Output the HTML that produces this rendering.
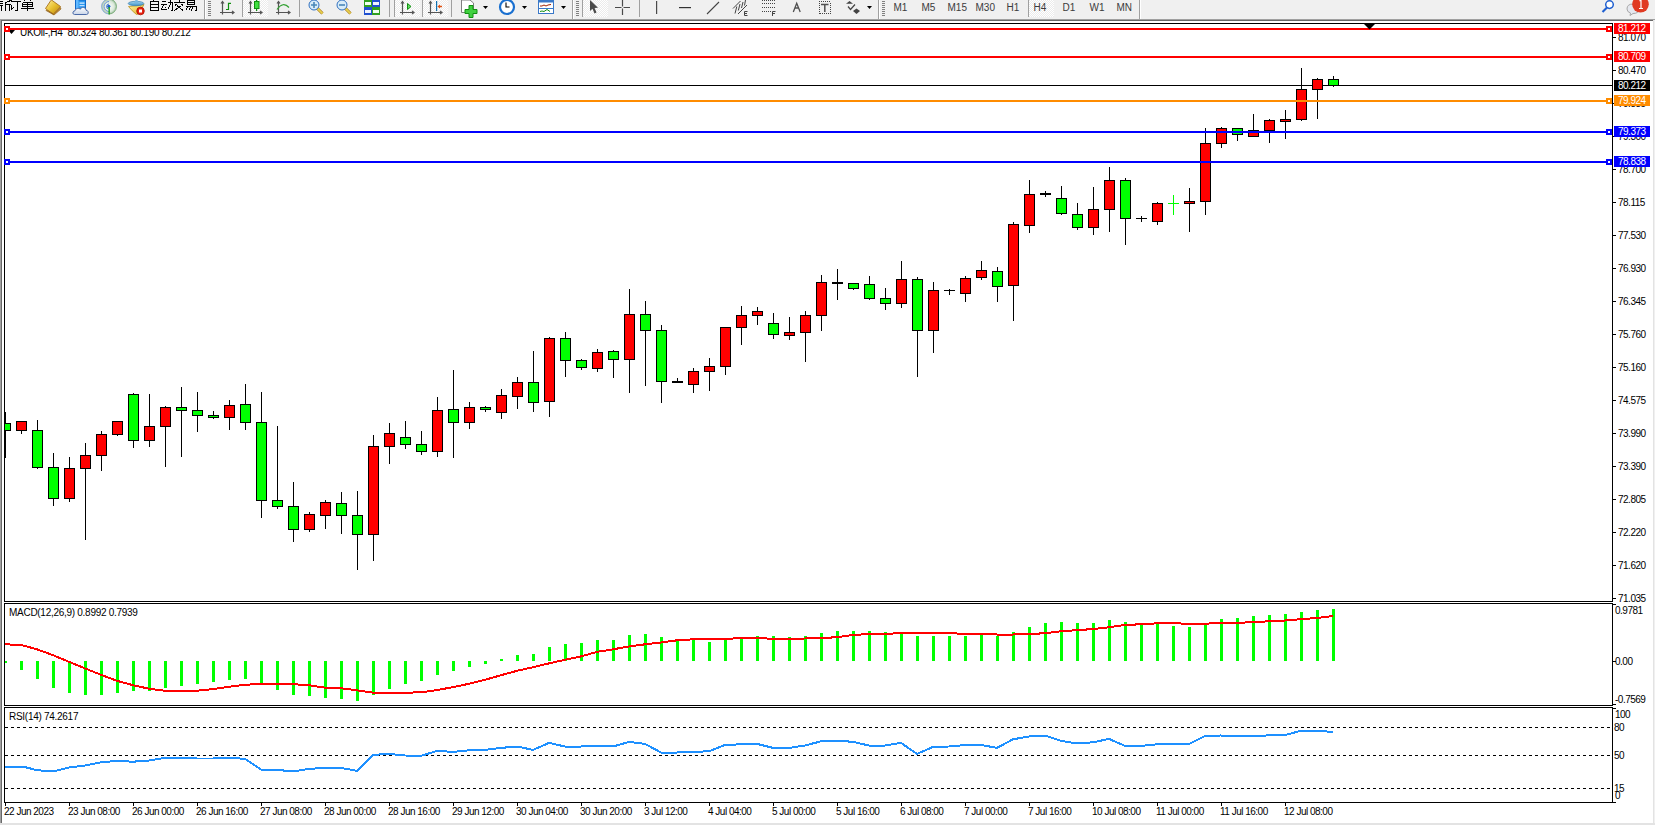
<!DOCTYPE html>
<html><head><meta charset="utf-8"><style>
html,body{margin:0;padding:0}
body{width:1655px;height:825px;overflow:hidden;background:#f0f0f0;position:relative;font-family:"Liberation Sans", sans-serif}
svg{position:absolute;left:0;top:0}
.t text{font-family:"Liberation Sans", sans-serif;font-size:10px;letter-spacing:-0.5px}
</style></head><body>
<svg width="1655" height="825" viewBox="0 0 1655 825">
<rect x="0" y="19" width="1655" height="1" fill="#a0a0a0"/>
<rect x="0" y="20" width="1654" height="804" fill="#696969"/>
<rect x="0" y="20" width="1" height="804" fill="#a0a0a0"/>
<rect x="2" y="21" width="1651" height="802" fill="#ffffff"/>
<rect x="1653" y="20" width="1" height="804" fill="#e3e3e3"/>
<rect x="0" y="823" width="1655" height="2" fill="#e3e3e3"/>
<defs><clipPath id="mc"><rect x="5" y="24" width="1607" height="577"/></clipPath><clipPath id="macdc"><rect x="5" y="604" width="1607" height="101"/></clipPath><clipPath id="rsic"><rect x="5" y="708" width="1607" height="94"/></clipPath></defs>
<rect x="4.5" y="23.5" width="1608" height="578" fill="none" stroke="#000" stroke-width="1" shape-rendering="crispEdges"/>
<rect x="4.5" y="603.5" width="1608" height="102" fill="none" stroke="#000" stroke-width="1" shape-rendering="crispEdges"/>
<rect x="4.5" y="707.5" width="1608" height="95" fill="none" stroke="#000" stroke-width="1" shape-rendering="crispEdges"/>
<rect x="5" y="85" width="1607" height="1" fill="#000" shape-rendering="crispEdges"/>
<g clip-path="url(#mc)" shape-rendering="crispEdges">
<rect x="5" y="412" width="1" height="46" fill="#000"/>
<rect x="0" y="423" width="11" height="8" fill="#000"/>
<rect x="1" y="424" width="9" height="6" fill="#00ff00"/>
<rect x="21" y="421" width="1" height="13" fill="#000"/>
<rect x="16" y="421" width="11" height="10" fill="#000"/>
<rect x="17" y="422" width="9" height="8" fill="#ff0000"/>
<rect x="37" y="420" width="1" height="49" fill="#000"/>
<rect x="32" y="430" width="11" height="38" fill="#000"/>
<rect x="33" y="431" width="9" height="36" fill="#00ff00"/>
<rect x="53" y="453" width="1" height="53" fill="#000"/>
<rect x="48" y="467" width="11" height="32" fill="#000"/>
<rect x="49" y="468" width="9" height="30" fill="#00ff00"/>
<rect x="69" y="457" width="1" height="45" fill="#000"/>
<rect x="64" y="468" width="11" height="31" fill="#000"/>
<rect x="65" y="469" width="9" height="29" fill="#ff0000"/>
<rect x="85" y="443" width="1" height="97" fill="#000"/>
<rect x="80" y="455" width="11" height="14" fill="#000"/>
<rect x="81" y="456" width="9" height="12" fill="#ff0000"/>
<rect x="101" y="431" width="1" height="40" fill="#000"/>
<rect x="96" y="434" width="11" height="22" fill="#000"/>
<rect x="97" y="435" width="9" height="20" fill="#ff0000"/>
<rect x="117" y="421" width="1" height="15" fill="#000"/>
<rect x="112" y="421" width="11" height="14" fill="#000"/>
<rect x="113" y="422" width="9" height="12" fill="#ff0000"/>
<rect x="133" y="393" width="1" height="55" fill="#000"/>
<rect x="128" y="394" width="11" height="47" fill="#000"/>
<rect x="129" y="395" width="9" height="45" fill="#00ff00"/>
<rect x="149" y="394" width="1" height="53" fill="#000"/>
<rect x="144" y="426" width="11" height="15" fill="#000"/>
<rect x="145" y="427" width="9" height="13" fill="#ff0000"/>
<rect x="165" y="406" width="1" height="61" fill="#000"/>
<rect x="160" y="407" width="11" height="20" fill="#000"/>
<rect x="161" y="408" width="9" height="18" fill="#ff0000"/>
<rect x="181" y="387" width="1" height="70" fill="#000"/>
<rect x="176" y="407" width="11" height="4" fill="#000"/>
<rect x="177" y="408" width="9" height="2" fill="#00ff00"/>
<rect x="197" y="392" width="1" height="40" fill="#000"/>
<rect x="192" y="410" width="11" height="6" fill="#000"/>
<rect x="193" y="411" width="9" height="4" fill="#00ff00"/>
<rect x="213" y="411" width="1" height="8" fill="#000"/>
<rect x="208" y="415" width="11" height="3" fill="#000"/>
<rect x="209" y="416" width="9" height="1" fill="#00ff00"/>
<rect x="229" y="400" width="1" height="30" fill="#000"/>
<rect x="224" y="405" width="11" height="13" fill="#000"/>
<rect x="225" y="406" width="9" height="11" fill="#ff0000"/>
<rect x="245" y="384" width="1" height="46" fill="#000"/>
<rect x="240" y="404" width="11" height="19" fill="#000"/>
<rect x="241" y="405" width="9" height="17" fill="#00ff00"/>
<rect x="261" y="392" width="1" height="126" fill="#000"/>
<rect x="256" y="422" width="11" height="79" fill="#000"/>
<rect x="257" y="423" width="9" height="77" fill="#00ff00"/>
<rect x="277" y="426" width="1" height="83" fill="#000"/>
<rect x="272" y="500" width="11" height="7" fill="#000"/>
<rect x="273" y="501" width="9" height="5" fill="#00ff00"/>
<rect x="293" y="482" width="1" height="60" fill="#000"/>
<rect x="288" y="506" width="11" height="24" fill="#000"/>
<rect x="289" y="507" width="9" height="22" fill="#00ff00"/>
<rect x="309" y="512" width="1" height="20" fill="#000"/>
<rect x="304" y="514" width="11" height="16" fill="#000"/>
<rect x="305" y="515" width="9" height="14" fill="#ff0000"/>
<rect x="325" y="500" width="1" height="29" fill="#000"/>
<rect x="320" y="502" width="11" height="14" fill="#000"/>
<rect x="321" y="503" width="9" height="12" fill="#ff0000"/>
<rect x="341" y="492" width="1" height="42" fill="#000"/>
<rect x="336" y="503" width="11" height="13" fill="#000"/>
<rect x="337" y="504" width="9" height="11" fill="#00ff00"/>
<rect x="357" y="491" width="1" height="79" fill="#000"/>
<rect x="352" y="515" width="11" height="20" fill="#000"/>
<rect x="353" y="516" width="9" height="18" fill="#00ff00"/>
<rect x="373" y="435" width="1" height="126" fill="#000"/>
<rect x="368" y="446" width="11" height="89" fill="#000"/>
<rect x="369" y="447" width="9" height="87" fill="#ff0000"/>
<rect x="389" y="423" width="1" height="41" fill="#000"/>
<rect x="384" y="433" width="11" height="14" fill="#000"/>
<rect x="385" y="434" width="9" height="12" fill="#ff0000"/>
<rect x="405" y="421" width="1" height="28" fill="#000"/>
<rect x="400" y="437" width="11" height="8" fill="#000"/>
<rect x="401" y="438" width="9" height="6" fill="#00ff00"/>
<rect x="421" y="431" width="1" height="24" fill="#000"/>
<rect x="416" y="444" width="11" height="8" fill="#000"/>
<rect x="417" y="445" width="9" height="6" fill="#00ff00"/>
<rect x="437" y="397" width="1" height="60" fill="#000"/>
<rect x="432" y="410" width="11" height="42" fill="#000"/>
<rect x="433" y="411" width="9" height="40" fill="#ff0000"/>
<rect x="453" y="370" width="1" height="88" fill="#000"/>
<rect x="448" y="409" width="11" height="14" fill="#000"/>
<rect x="449" y="410" width="9" height="12" fill="#00ff00"/>
<rect x="469" y="402" width="1" height="27" fill="#000"/>
<rect x="464" y="407" width="11" height="16" fill="#000"/>
<rect x="465" y="408" width="9" height="14" fill="#ff0000"/>
<rect x="485" y="406" width="1" height="6" fill="#000"/>
<rect x="480" y="407" width="11" height="3" fill="#000"/>
<rect x="481" y="408" width="9" height="1" fill="#00ff00"/>
<rect x="501" y="389" width="1" height="30" fill="#000"/>
<rect x="496" y="395" width="11" height="18" fill="#000"/>
<rect x="497" y="396" width="9" height="16" fill="#ff0000"/>
<rect x="517" y="377" width="1" height="32" fill="#000"/>
<rect x="512" y="382" width="11" height="15" fill="#000"/>
<rect x="513" y="383" width="9" height="13" fill="#ff0000"/>
<rect x="533" y="351" width="1" height="61" fill="#000"/>
<rect x="528" y="382" width="11" height="21" fill="#000"/>
<rect x="529" y="383" width="9" height="19" fill="#00ff00"/>
<rect x="549" y="337" width="1" height="80" fill="#000"/>
<rect x="544" y="338" width="11" height="64" fill="#000"/>
<rect x="545" y="339" width="9" height="62" fill="#ff0000"/>
<rect x="565" y="332" width="1" height="45" fill="#000"/>
<rect x="560" y="338" width="11" height="23" fill="#000"/>
<rect x="561" y="339" width="9" height="21" fill="#00ff00"/>
<rect x="581" y="359" width="1" height="11" fill="#000"/>
<rect x="576" y="360" width="11" height="8" fill="#000"/>
<rect x="577" y="361" width="9" height="6" fill="#00ff00"/>
<rect x="597" y="349" width="1" height="23" fill="#000"/>
<rect x="592" y="352" width="11" height="17" fill="#000"/>
<rect x="593" y="353" width="9" height="15" fill="#ff0000"/>
<rect x="613" y="350" width="1" height="28" fill="#000"/>
<rect x="608" y="351" width="11" height="9" fill="#000"/>
<rect x="609" y="352" width="9" height="7" fill="#00ff00"/>
<rect x="629" y="289" width="1" height="104" fill="#000"/>
<rect x="624" y="314" width="11" height="46" fill="#000"/>
<rect x="625" y="315" width="9" height="44" fill="#ff0000"/>
<rect x="645" y="301" width="1" height="85" fill="#000"/>
<rect x="640" y="314" width="11" height="17" fill="#000"/>
<rect x="641" y="315" width="9" height="15" fill="#00ff00"/>
<rect x="661" y="325" width="1" height="78" fill="#000"/>
<rect x="656" y="330" width="11" height="52" fill="#000"/>
<rect x="657" y="331" width="9" height="50" fill="#00ff00"/>
<rect x="677" y="378" width="1" height="5" fill="#000"/>
<rect x="672" y="381" width="11" height="2" fill="#000"/>
<rect x="693" y="368" width="1" height="25" fill="#000"/>
<rect x="688" y="371" width="11" height="14" fill="#000"/>
<rect x="689" y="372" width="9" height="12" fill="#ff0000"/>
<rect x="709" y="358" width="1" height="33" fill="#000"/>
<rect x="704" y="366" width="11" height="6" fill="#000"/>
<rect x="705" y="367" width="9" height="4" fill="#ff0000"/>
<rect x="725" y="327" width="1" height="48" fill="#000"/>
<rect x="720" y="327" width="11" height="40" fill="#000"/>
<rect x="721" y="328" width="9" height="38" fill="#ff0000"/>
<rect x="741" y="306" width="1" height="39" fill="#000"/>
<rect x="736" y="315" width="11" height="13" fill="#000"/>
<rect x="737" y="316" width="9" height="11" fill="#ff0000"/>
<rect x="757" y="307" width="1" height="18" fill="#000"/>
<rect x="752" y="311" width="11" height="5" fill="#000"/>
<rect x="753" y="312" width="9" height="3" fill="#ff0000"/>
<rect x="773" y="313" width="1" height="26" fill="#000"/>
<rect x="768" y="323" width="11" height="12" fill="#000"/>
<rect x="769" y="324" width="9" height="10" fill="#00ff00"/>
<rect x="789" y="317" width="1" height="23" fill="#000"/>
<rect x="784" y="332" width="11" height="4" fill="#000"/>
<rect x="785" y="333" width="9" height="2" fill="#ff0000"/>
<rect x="805" y="311" width="1" height="51" fill="#000"/>
<rect x="800" y="315" width="11" height="18" fill="#000"/>
<rect x="801" y="316" width="9" height="16" fill="#ff0000"/>
<rect x="821" y="275" width="1" height="56" fill="#000"/>
<rect x="816" y="282" width="11" height="34" fill="#000"/>
<rect x="817" y="283" width="9" height="32" fill="#ff0000"/>
<rect x="837" y="269" width="1" height="31" fill="#000"/>
<rect x="832" y="282" width="11" height="2" fill="#000"/>
<rect x="853" y="283" width="1" height="7" fill="#000"/>
<rect x="848" y="283" width="11" height="6" fill="#000"/>
<rect x="849" y="284" width="9" height="4" fill="#00ff00"/>
<rect x="869" y="276" width="1" height="24" fill="#000"/>
<rect x="864" y="284" width="11" height="15" fill="#000"/>
<rect x="865" y="285" width="9" height="13" fill="#00ff00"/>
<rect x="885" y="288" width="1" height="22" fill="#000"/>
<rect x="880" y="298" width="11" height="6" fill="#000"/>
<rect x="881" y="299" width="9" height="4" fill="#00ff00"/>
<rect x="901" y="261" width="1" height="47" fill="#000"/>
<rect x="896" y="279" width="11" height="25" fill="#000"/>
<rect x="897" y="280" width="9" height="23" fill="#ff0000"/>
<rect x="917" y="277" width="1" height="100" fill="#000"/>
<rect x="912" y="279" width="11" height="52" fill="#000"/>
<rect x="913" y="280" width="9" height="50" fill="#00ff00"/>
<rect x="933" y="282" width="1" height="71" fill="#000"/>
<rect x="928" y="290" width="11" height="41" fill="#000"/>
<rect x="929" y="291" width="9" height="39" fill="#ff0000"/>
<rect x="949" y="289" width="1" height="6" fill="#000"/>
<rect x="944" y="290" width="11" height="1" fill="#000"/>
<rect x="965" y="276" width="1" height="26" fill="#000"/>
<rect x="960" y="278" width="11" height="16" fill="#000"/>
<rect x="961" y="279" width="9" height="14" fill="#ff0000"/>
<rect x="981" y="261" width="1" height="19" fill="#000"/>
<rect x="976" y="270" width="11" height="8" fill="#000"/>
<rect x="977" y="271" width="9" height="6" fill="#ff0000"/>
<rect x="997" y="267" width="1" height="35" fill="#000"/>
<rect x="992" y="271" width="11" height="16" fill="#000"/>
<rect x="993" y="272" width="9" height="14" fill="#00ff00"/>
<rect x="1013" y="222" width="1" height="99" fill="#000"/>
<rect x="1008" y="224" width="11" height="62" fill="#000"/>
<rect x="1009" y="225" width="9" height="60" fill="#ff0000"/>
<rect x="1029" y="180" width="1" height="53" fill="#000"/>
<rect x="1024" y="194" width="11" height="32" fill="#000"/>
<rect x="1025" y="195" width="9" height="30" fill="#ff0000"/>
<rect x="1045" y="191" width="1" height="6" fill="#000"/>
<rect x="1040" y="193" width="11" height="2" fill="#000"/>
<rect x="1061" y="186" width="1" height="29" fill="#000"/>
<rect x="1056" y="198" width="11" height="16" fill="#000"/>
<rect x="1057" y="199" width="9" height="14" fill="#00ff00"/>
<rect x="1077" y="203" width="1" height="27" fill="#000"/>
<rect x="1072" y="214" width="11" height="14" fill="#000"/>
<rect x="1073" y="215" width="9" height="12" fill="#00ff00"/>
<rect x="1093" y="187" width="1" height="48" fill="#000"/>
<rect x="1088" y="209" width="11" height="19" fill="#000"/>
<rect x="1089" y="210" width="9" height="17" fill="#ff0000"/>
<rect x="1109" y="167" width="1" height="65" fill="#000"/>
<rect x="1104" y="180" width="11" height="30" fill="#000"/>
<rect x="1105" y="181" width="9" height="28" fill="#ff0000"/>
<rect x="1125" y="178" width="1" height="67" fill="#000"/>
<rect x="1120" y="180" width="11" height="39" fill="#000"/>
<rect x="1121" y="181" width="9" height="37" fill="#00ff00"/>
<rect x="1141" y="216" width="1" height="6" fill="#000"/>
<rect x="1136" y="218" width="11" height="1" fill="#000"/>
<rect x="1157" y="202" width="1" height="23" fill="#000"/>
<rect x="1152" y="203" width="11" height="19" fill="#000"/>
<rect x="1153" y="204" width="9" height="17" fill="#ff0000"/>
<rect x="1168" y="203" width="11" height="1" fill="#00ff00"/>
<rect x="1173" y="195" width="1" height="20" fill="#00ff00"/>
<rect x="1189" y="188" width="1" height="44" fill="#000"/>
<rect x="1184" y="201" width="11" height="3" fill="#000"/>
<rect x="1185" y="202" width="9" height="1" fill="#ff0000"/>
<rect x="1205" y="128" width="1" height="87" fill="#000"/>
<rect x="1200" y="143" width="11" height="59" fill="#000"/>
<rect x="1201" y="144" width="9" height="57" fill="#ff0000"/>
<rect x="1221" y="127" width="1" height="21" fill="#000"/>
<rect x="1216" y="128" width="11" height="16" fill="#000"/>
<rect x="1217" y="129" width="9" height="14" fill="#ff0000"/>
<rect x="1237" y="128" width="1" height="13" fill="#000"/>
<rect x="1232" y="128" width="11" height="7" fill="#000"/>
<rect x="1233" y="129" width="9" height="5" fill="#00ff00"/>
<rect x="1253" y="114" width="1" height="23" fill="#000"/>
<rect x="1248" y="130" width="11" height="7" fill="#000"/>
<rect x="1249" y="131" width="9" height="5" fill="#ff0000"/>
<rect x="1269" y="119" width="1" height="24" fill="#000"/>
<rect x="1264" y="120" width="11" height="11" fill="#000"/>
<rect x="1265" y="121" width="9" height="9" fill="#ff0000"/>
<rect x="1285" y="110" width="1" height="29" fill="#000"/>
<rect x="1280" y="119" width="11" height="3" fill="#000"/>
<rect x="1281" y="120" width="9" height="1" fill="#ff0000"/>
<rect x="1301" y="68" width="1" height="53" fill="#000"/>
<rect x="1296" y="89" width="11" height="31" fill="#000"/>
<rect x="1297" y="90" width="9" height="29" fill="#ff0000"/>
<rect x="1317" y="78" width="1" height="41" fill="#000"/>
<rect x="1312" y="79" width="11" height="11" fill="#000"/>
<rect x="1313" y="80" width="9" height="9" fill="#ff0000"/>
<rect x="1333" y="76" width="1" height="11" fill="#000"/>
<rect x="1328" y="79" width="11" height="7" fill="#000"/>
<rect x="1329" y="80" width="9" height="5" fill="#00ff00"/>
</g>
<text x="20" y="36" fill="#000" style="font-family:&quot;Liberation Sans&quot;, sans-serif;font-size:10px;letter-spacing:-0.28px">UKOil-,H4&#160;&#160;80.324 80.361 80.190 80.212</text>
<path d="M8 30 L15 30 L11.5 34 Z" fill="#000"/>
<g>
<rect x="5" y="28" width="1607" height="2" fill="#ff0000" shape-rendering="crispEdges"/>
<rect x="4" y="26" width="6" height="6" fill="#ff0000" shape-rendering="crispEdges"/>
<rect x="6" y="28" width="2" height="2" fill="#fff" shape-rendering="crispEdges"/>
<rect x="1606" y="26" width="6" height="6" fill="#ff0000" shape-rendering="crispEdges"/>
<rect x="1608" y="28" width="2" height="2" fill="#fff" shape-rendering="crispEdges"/>
<rect x="5" y="56" width="1607" height="2" fill="#ff0000" shape-rendering="crispEdges"/>
<rect x="4" y="54" width="6" height="6" fill="#ff0000" shape-rendering="crispEdges"/>
<rect x="6" y="56" width="2" height="2" fill="#fff" shape-rendering="crispEdges"/>
<rect x="1606" y="54" width="6" height="6" fill="#ff0000" shape-rendering="crispEdges"/>
<rect x="1608" y="56" width="2" height="2" fill="#fff" shape-rendering="crispEdges"/>
<rect x="5" y="100" width="1607" height="2" fill="#ff8c00" shape-rendering="crispEdges"/>
<rect x="4" y="98" width="6" height="6" fill="#ff8c00" shape-rendering="crispEdges"/>
<rect x="6" y="100" width="2" height="2" fill="#fff" shape-rendering="crispEdges"/>
<rect x="1606" y="98" width="6" height="6" fill="#ff8c00" shape-rendering="crispEdges"/>
<rect x="1608" y="100" width="2" height="2" fill="#fff" shape-rendering="crispEdges"/>
<rect x="5" y="131" width="1607" height="2" fill="#0000ff" shape-rendering="crispEdges"/>
<rect x="4" y="129" width="6" height="6" fill="#0000ff" shape-rendering="crispEdges"/>
<rect x="6" y="131" width="2" height="2" fill="#fff" shape-rendering="crispEdges"/>
<rect x="1606" y="129" width="6" height="6" fill="#0000ff" shape-rendering="crispEdges"/>
<rect x="1608" y="131" width="2" height="2" fill="#fff" shape-rendering="crispEdges"/>
<rect x="5" y="161" width="1607" height="2" fill="#0000ff" shape-rendering="crispEdges"/>
<rect x="4" y="159" width="6" height="6" fill="#0000ff" shape-rendering="crispEdges"/>
<rect x="6" y="161" width="2" height="2" fill="#fff" shape-rendering="crispEdges"/>
<rect x="1606" y="159" width="6" height="6" fill="#0000ff" shape-rendering="crispEdges"/>
<rect x="1608" y="161" width="2" height="2" fill="#fff" shape-rendering="crispEdges"/>
</g>
<path d="M1364 24 L1375 24 L1369.5 29.5 Z" fill="#000"/>
<rect x="1613" y="37" width="3" height="1" fill="#000" shape-rendering="crispEdges"/>
<rect x="1613" y="70" width="3" height="1" fill="#000" shape-rendering="crispEdges"/>
<rect x="1613" y="103" width="3" height="1" fill="#000" shape-rendering="crispEdges"/>
<rect x="1613" y="136" width="3" height="1" fill="#000" shape-rendering="crispEdges"/>
<rect x="1613" y="169" width="3" height="1" fill="#000" shape-rendering="crispEdges"/>
<rect x="1613" y="202" width="3" height="1" fill="#000" shape-rendering="crispEdges"/>
<rect x="1613" y="235" width="3" height="1" fill="#000" shape-rendering="crispEdges"/>
<rect x="1613" y="268" width="3" height="1" fill="#000" shape-rendering="crispEdges"/>
<rect x="1613" y="301" width="3" height="1" fill="#000" shape-rendering="crispEdges"/>
<rect x="1613" y="334" width="3" height="1" fill="#000" shape-rendering="crispEdges"/>
<rect x="1613" y="367" width="3" height="1" fill="#000" shape-rendering="crispEdges"/>
<rect x="1613" y="400" width="3" height="1" fill="#000" shape-rendering="crispEdges"/>
<rect x="1613" y="433" width="3" height="1" fill="#000" shape-rendering="crispEdges"/>
<rect x="1613" y="466" width="3" height="1" fill="#000" shape-rendering="crispEdges"/>
<rect x="1613" y="499" width="3" height="1" fill="#000" shape-rendering="crispEdges"/>
<rect x="1613" y="532" width="3" height="1" fill="#000" shape-rendering="crispEdges"/>
<rect x="1613" y="565" width="3" height="1" fill="#000" shape-rendering="crispEdges"/>
<rect x="1613" y="598" width="3" height="1" fill="#000" shape-rendering="crispEdges"/>
<g clip-path="url(#macdc)" shape-rendering="crispEdges">
<rect x="4" y="661" width="3" height="2" fill="#00ff00"/>
<rect x="20" y="661" width="3" height="9" fill="#00ff00"/>
<rect x="36" y="661" width="3" height="18" fill="#00ff00"/>
<rect x="52" y="661" width="3" height="27" fill="#00ff00"/>
<rect x="68" y="661" width="3" height="32" fill="#00ff00"/>
<rect x="84" y="661" width="3" height="34" fill="#00ff00"/>
<rect x="100" y="661" width="3" height="34" fill="#00ff00"/>
<rect x="116" y="661" width="3" height="32" fill="#00ff00"/>
<rect x="132" y="661" width="3" height="30" fill="#00ff00"/>
<rect x="148" y="661" width="3" height="30" fill="#00ff00"/>
<rect x="164" y="661" width="3" height="27" fill="#00ff00"/>
<rect x="180" y="661" width="3" height="25" fill="#00ff00"/>
<rect x="196" y="661" width="3" height="23" fill="#00ff00"/>
<rect x="212" y="661" width="3" height="21" fill="#00ff00"/>
<rect x="228" y="661" width="3" height="19" fill="#00ff00"/>
<rect x="244" y="661" width="3" height="18" fill="#00ff00"/>
<rect x="260" y="661" width="3" height="23" fill="#00ff00"/>
<rect x="276" y="661" width="3" height="29" fill="#00ff00"/>
<rect x="292" y="661" width="3" height="34" fill="#00ff00"/>
<rect x="308" y="661" width="3" height="35" fill="#00ff00"/>
<rect x="324" y="661" width="3" height="37" fill="#00ff00"/>
<rect x="340" y="661" width="3" height="38" fill="#00ff00"/>
<rect x="356" y="661" width="3" height="40" fill="#00ff00"/>
<rect x="372" y="661" width="3" height="34" fill="#00ff00"/>
<rect x="388" y="661" width="3" height="28" fill="#00ff00"/>
<rect x="404" y="661" width="3" height="23" fill="#00ff00"/>
<rect x="420" y="661" width="3" height="20" fill="#00ff00"/>
<rect x="436" y="661" width="3" height="14" fill="#00ff00"/>
<rect x="452" y="661" width="3" height="10" fill="#00ff00"/>
<rect x="468" y="661" width="3" height="6" fill="#00ff00"/>
<rect x="484" y="661" width="3" height="3" fill="#00ff00"/>
<rect x="500" y="659" width="3" height="2" fill="#00ff00"/>
<rect x="516" y="655" width="3" height="6" fill="#00ff00"/>
<rect x="532" y="654" width="3" height="7" fill="#00ff00"/>
<rect x="548" y="647" width="3" height="14" fill="#00ff00"/>
<rect x="564" y="644" width="3" height="17" fill="#00ff00"/>
<rect x="580" y="643" width="3" height="18" fill="#00ff00"/>
<rect x="596" y="640" width="3" height="21" fill="#00ff00"/>
<rect x="612" y="640" width="3" height="21" fill="#00ff00"/>
<rect x="628" y="635" width="3" height="26" fill="#00ff00"/>
<rect x="644" y="634" width="3" height="27" fill="#00ff00"/>
<rect x="660" y="637" width="3" height="24" fill="#00ff00"/>
<rect x="676" y="640" width="3" height="21" fill="#00ff00"/>
<rect x="692" y="640" width="3" height="21" fill="#00ff00"/>
<rect x="708" y="642" width="3" height="19" fill="#00ff00"/>
<rect x="724" y="639" width="3" height="22" fill="#00ff00"/>
<rect x="740" y="638" width="3" height="23" fill="#00ff00"/>
<rect x="756" y="636" width="3" height="25" fill="#00ff00"/>
<rect x="772" y="636" width="3" height="25" fill="#00ff00"/>
<rect x="788" y="637" width="3" height="24" fill="#00ff00"/>
<rect x="804" y="636" width="3" height="25" fill="#00ff00"/>
<rect x="820" y="633" width="3" height="28" fill="#00ff00"/>
<rect x="836" y="631" width="3" height="30" fill="#00ff00"/>
<rect x="852" y="631" width="3" height="30" fill="#00ff00"/>
<rect x="868" y="631" width="3" height="30" fill="#00ff00"/>
<rect x="884" y="632" width="3" height="29" fill="#00ff00"/>
<rect x="900" y="632" width="3" height="29" fill="#00ff00"/>
<rect x="916" y="636" width="3" height="25" fill="#00ff00"/>
<rect x="932" y="636" width="3" height="25" fill="#00ff00"/>
<rect x="948" y="636" width="3" height="25" fill="#00ff00"/>
<rect x="964" y="636" width="3" height="25" fill="#00ff00"/>
<rect x="980" y="635" width="3" height="26" fill="#00ff00"/>
<rect x="996" y="636" width="3" height="25" fill="#00ff00"/>
<rect x="1012" y="632" width="3" height="29" fill="#00ff00"/>
<rect x="1028" y="627" width="3" height="34" fill="#00ff00"/>
<rect x="1044" y="623" width="3" height="38" fill="#00ff00"/>
<rect x="1060" y="622" width="3" height="39" fill="#00ff00"/>
<rect x="1076" y="623" width="3" height="38" fill="#00ff00"/>
<rect x="1092" y="623" width="3" height="38" fill="#00ff00"/>
<rect x="1108" y="620" width="3" height="41" fill="#00ff00"/>
<rect x="1124" y="622" width="3" height="39" fill="#00ff00"/>
<rect x="1140" y="624" width="3" height="37" fill="#00ff00"/>
<rect x="1156" y="624" width="3" height="37" fill="#00ff00"/>
<rect x="1172" y="626" width="3" height="35" fill="#00ff00"/>
<rect x="1188" y="627" width="3" height="34" fill="#00ff00"/>
<rect x="1204" y="624" width="3" height="37" fill="#00ff00"/>
<rect x="1220" y="619" width="3" height="42" fill="#00ff00"/>
<rect x="1236" y="618" width="3" height="43" fill="#00ff00"/>
<rect x="1252" y="616" width="3" height="45" fill="#00ff00"/>
<rect x="1268" y="615" width="3" height="46" fill="#00ff00"/>
<rect x="1284" y="614" width="3" height="47" fill="#00ff00"/>
<rect x="1300" y="612" width="3" height="49" fill="#00ff00"/>
<rect x="1316" y="610" width="3" height="51" fill="#00ff00"/>
<rect x="1332" y="609" width="3" height="52" fill="#00ff00"/>
</g>
<polyline clip-path="url(#macdc)" points="4,644.3 21,644.9 37,649.3 53,655.2 69,661.8 85,668.4 101,674.8 117,680.8 133,685.2 149,688.7 165,690.7 181,690.7 197,690.7 213,689.1 229,686.7 245,684.8 261,683.8 277,683.8 293,684.2 309,685.2 325,687.7 341,688.3 357,690.3 373,692.7 389,692.7 405,692.7 421,692.3 437,690.1 453,687.1 469,683.8 485,679.8 501,675.2 517,670.8 533,667.2 549,663.4 565,659.8 581,656.4 597,651.9 613,649.3 629,646.5 645,644.3 661,642.5 677,640.3 693,639.3 709,638.9 725,638.9 741,638.1 757,637.9 773,638.9 789,638.9 805,638.5 821,637.9 837,637.3 853,634.9 869,634.1 885,633.9 901,633.1 917,633.1 933,633.1 949,633.1 965,633.9 981,633.9 997,634.5 1013,634.5 1029,633.9 1045,633.3 1061,631.3 1077,630.1 1093,629.1 1109,627.3 1125,624.9 1141,624.3 1157,623.3 1173,623.3 1189,623.7 1205,623.7 1221,622.9 1237,622.9 1253,622.1 1269,621.3 1285,620.5 1301,619.2 1317,618 1333,616" fill="none" stroke="#ff0000" stroke-width="2" shape-rendering="crispEdges"/>
<line x1="5" y1="727.5" x2="1612" y2="727.5" stroke="#000" stroke-width="1" stroke-dasharray="3,3" shape-rendering="crispEdges"/>
<line x1="5" y1="755.5" x2="1612" y2="755.5" stroke="#000" stroke-width="1" stroke-dasharray="3,3" shape-rendering="crispEdges"/>
<line x1="5" y1="788.5" x2="1612" y2="788.5" stroke="#000" stroke-width="1" stroke-dasharray="3,3" shape-rendering="crispEdges"/>
<polyline clip-path="url(#rsic)" points="5,767.1 25,767.1 37,770.2 53,771.4 69,767.5 85,765.5 101,762.3 117,760.9 133,761.7 149,760.5 165,757.9 181,758.3 197,758.5 213,758.5 229,757.7 245,758.9 261,769.5 277,769.9 293,771.4 309,768.9 325,767.9 341,767.9 357,770.8 373,754.9 389,753.9 405,755.5 421,755.9 437,750.9 453,751.9 469,750.3 485,749.9 501,747.9 517,746.5 533,749.9 549,742.9 565,746.5 581,746.5 597,745.7 613,746.5 629,741.9 645,743.9 661,752.5 677,752.5 693,751.9 709,751.3 725,744.9 741,744.3 757,743.9 773,747.9 789,747.9 805,745.5 821,741.3 837,740.5 853,741.9 869,745.5 885,745.5 901,742.9 917,753.9 933,746.9 949,746.5 965,745 981,744.9 997,747.9 1013,739.3 1029,736.5 1045,735.5 1061,740.9 1077,743.5 1093,742.3 1109,738.9 1125,745.9 1141,745.9 1157,744.3 1173,743.9 1189,743.9 1205,735.9 1221,735.5 1237,736.5 1253,736.3 1269,735.3 1285,735 1301,730.8 1317,730.8 1333,731.9" fill="none" stroke="#1e90ff" stroke-width="2" shape-rendering="crispEdges"/>
<rect x="1613" y="604" width="3" height="1" fill="#000" shape-rendering="crispEdges"/>
<rect x="1613" y="661" width="3" height="1" fill="#000" shape-rendering="crispEdges"/>
<rect x="1613" y="704" width="3" height="1" fill="#000" shape-rendering="crispEdges"/>
<rect x="1613" y="708" width="3" height="1" fill="#000" shape-rendering="crispEdges"/>
<rect x="1613" y="802" width="3" height="1" fill="#000" shape-rendering="crispEdges"/>
<rect x="5" y="803" width="1" height="3" fill="#000" shape-rendering="crispEdges"/>
<rect x="69" y="803" width="1" height="3" fill="#000" shape-rendering="crispEdges"/>
<rect x="133" y="803" width="1" height="3" fill="#000" shape-rendering="crispEdges"/>
<rect x="197" y="803" width="1" height="3" fill="#000" shape-rendering="crispEdges"/>
<rect x="261" y="803" width="1" height="3" fill="#000" shape-rendering="crispEdges"/>
<rect x="325" y="803" width="1" height="3" fill="#000" shape-rendering="crispEdges"/>
<rect x="389" y="803" width="1" height="3" fill="#000" shape-rendering="crispEdges"/>
<rect x="453" y="803" width="1" height="3" fill="#000" shape-rendering="crispEdges"/>
<rect x="517" y="803" width="1" height="3" fill="#000" shape-rendering="crispEdges"/>
<rect x="581" y="803" width="1" height="3" fill="#000" shape-rendering="crispEdges"/>
<rect x="645" y="803" width="1" height="3" fill="#000" shape-rendering="crispEdges"/>
<rect x="709" y="803" width="1" height="3" fill="#000" shape-rendering="crispEdges"/>
<rect x="773" y="803" width="1" height="3" fill="#000" shape-rendering="crispEdges"/>
<rect x="837" y="803" width="1" height="3" fill="#000" shape-rendering="crispEdges"/>
<rect x="901" y="803" width="1" height="3" fill="#000" shape-rendering="crispEdges"/>
<rect x="965" y="803" width="1" height="3" fill="#000" shape-rendering="crispEdges"/>
<rect x="1029" y="803" width="1" height="3" fill="#000" shape-rendering="crispEdges"/>
<rect x="1093" y="803" width="1" height="3" fill="#000" shape-rendering="crispEdges"/>
<rect x="1157" y="803" width="1" height="3" fill="#000" shape-rendering="crispEdges"/>
<rect x="1221" y="803" width="1" height="3" fill="#000" shape-rendering="crispEdges"/>
<rect x="1285" y="803" width="1" height="3" fill="#000" shape-rendering="crispEdges"/>
<g class="t">
<text x="1618" y="41" fill="#000">81.070</text>
<text x="1618" y="74" fill="#000">80.470</text>
<text x="1618" y="107" fill="#000">79.885</text>
<text x="1618" y="140" fill="#000">79.300</text>
<text x="1618" y="173" fill="#000">78.700</text>
<text x="1618" y="206" fill="#000">78.115</text>
<text x="1618" y="239" fill="#000">77.530</text>
<text x="1618" y="272" fill="#000">76.930</text>
<text x="1618" y="305" fill="#000">76.345</text>
<text x="1618" y="338" fill="#000">75.760</text>
<text x="1618" y="371" fill="#000">75.160</text>
<text x="1618" y="404" fill="#000">74.575</text>
<text x="1618" y="437" fill="#000">73.990</text>
<text x="1618" y="470" fill="#000">73.390</text>
<text x="1618" y="503" fill="#000">72.805</text>
<text x="1618" y="536" fill="#000">72.220</text>
<text x="1618" y="569" fill="#000">71.620</text>
<text x="1618" y="602" fill="#000">71.035</text>
<text x="1615" y="614" fill="#000">0.9781</text>
<text x="1615" y="665" fill="#000">0.00</text>
<text x="1615" y="703" fill="#000">-0.7569</text>
<text x="1615" y="718" fill="#000">100</text>
<text x="1614" y="731" fill="#000">80</text>
<text x="1614" y="759" fill="#000">50</text>
<text x="1614" y="792" fill="#000">15</text>
<text x="1615" y="799" fill="#000">0</text>
<text x="4" y="815" fill="#000">22 Jun 2023</text>
<text x="68" y="815" fill="#000">23 Jun 08:00</text>
<text x="132" y="815" fill="#000">26 Jun 00:00</text>
<text x="196" y="815" fill="#000">26 Jun 16:00</text>
<text x="260" y="815" fill="#000">27 Jun 08:00</text>
<text x="324" y="815" fill="#000">28 Jun 00:00</text>
<text x="388" y="815" fill="#000">28 Jun 16:00</text>
<text x="452" y="815" fill="#000">29 Jun 12:00</text>
<text x="516" y="815" fill="#000">30 Jun 04:00</text>
<text x="580" y="815" fill="#000">30 Jun 20:00</text>
<text x="644" y="815" fill="#000">3 Jul 12:00</text>
<text x="708" y="815" fill="#000">4 Jul 04:00</text>
<text x="772" y="815" fill="#000">5 Jul 00:00</text>
<text x="836" y="815" fill="#000">5 Jul 16:00</text>
<text x="900" y="815" fill="#000">6 Jul 08:00</text>
<text x="964" y="815" fill="#000">7 Jul 00:00</text>
<text x="1028" y="815" fill="#000">7 Jul 16:00</text>
<text x="1092" y="815" fill="#000">10 Jul 08:00</text>
<text x="1156" y="815" fill="#000">11 Jul 00:00</text>
<text x="1220" y="815" fill="#000">11 Jul 16:00</text>
<text x="1284" y="815" fill="#000">12 Jul 08:00</text>
<text x="9" y="616" fill="#000" style="letter-spacing:-0.28px">MACD(12,26,9) 0.8992 0.7939</text>
<text x="9" y="720" fill="#000" style="letter-spacing:-0.28px">RSI(14) 74.2617</text>
<rect x="1614" y="23" width="36" height="11" fill="#ff0000" shape-rendering="crispEdges"/>
<rect x="1614" y="51" width="36" height="11" fill="#ff0000" shape-rendering="crispEdges"/>
<rect x="1614" y="80" width="36" height="11" fill="#000000" shape-rendering="crispEdges"/>
<rect x="1614" y="95" width="36" height="11" fill="#ff8c00" shape-rendering="crispEdges"/>
<rect x="1614" y="126" width="36" height="11" fill="#0000ff" shape-rendering="crispEdges"/>
<rect x="1614" y="156" width="36" height="11" fill="#0000ff" shape-rendering="crispEdges"/>
<text x="1618" y="32" fill="#fff">81.212</text>
<text x="1618" y="60" fill="#fff">80.709</text>
<text x="1618" y="89" fill="#fff">80.212</text>
<text x="1618" y="104" fill="#fff">79.924</text>
<text x="1618" y="135" fill="#fff">79.373</text>
<text x="1618" y="165" fill="#fff">78.838</text>
</g>
<g id="toolbar">
<!-- chinese glyphs approximations -->
<g stroke="#000" stroke-width="1" fill="none" shape-rendering="crispEdges">
<!-- 新 (partially cut) -->
<path d="M0 1.5H3 M0 3.5H3 M0 5.5H3 M1.5 5.5V11 M11 0.5L5.5 2.5 M5.5 2.5V11 M5.5 4.5H11 M9.5 4.5V11"/>
<!-- 订 -->
<path d="M11.5 0.5L12.5 2.5 M11.5 4.5V9.5L13.5 7.5 M13 1.5H21 M17.5 1.5V10.5H14.5"/>
<!-- 单 -->
<path d="M24.5 0V1 M30.5 0V1 M22.5 2.5H32.5 M22.5 4.5H32.5 M22.5 6.5H32.5 M22.5 2.5V6.5 M32.5 2.5V6.5 M27.5 2.5V11 M21 8.5H34"/>
<!-- 自 -->
<path d="M153.5 0V1 M150.5 1.5H158.5V10.5H150.5Z M150.5 4.5H158.5 M150.5 7.5H158.5"/>
<!-- 动 -->
<path d="M162 1.5H166 M161 4.5H167 M163.5 4.5L161.5 9.5H166.5 M165.5 7L166.5 8.5 M167.5 2.5H172.5V10.5H170.5 M170.5 0V4L168 9"/>
<!-- 交 -->
<path d="M179.5 0V1.5 M173.5 2.5H185 M176.5 4L175 5.5 M181.5 4L183 5.5 M177 5.5L183 10.5 M181.5 5.5L174.5 10.5"/>
<!-- 易 -->
<path d="M187.5 0.5H194.5V4.5H187.5Z M187.5 2.5H194.5 M186 6.5H196V10.5H194.5 M188.5 6.5L186 9.5 M191 6.5L188.5 10.5 M193.5 6.5L191 10.5"/>
</g>

<!-- book icon -->
<defs>
<linearGradient id="bookg" x1="0" y1="0" x2="1" y2="1"><stop offset="0" stop-color="#fff0a0"/><stop offset="0.5" stop-color="#e8c030"/><stop offset="1" stop-color="#b88010"/></linearGradient>
<linearGradient id="cloudg" x1="0" y1="0" x2="0" y2="1"><stop offset="0" stop-color="#ffffff"/><stop offset="1" stop-color="#c8d4e8"/></linearGradient>
<linearGradient id="hatg" x1="0" y1="0" x2="0" y2="1"><stop offset="0" stop-color="#a8d8f0"/><stop offset="1" stop-color="#3890c8"/></linearGradient>
<linearGradient id="bowlg" x1="0" y1="0" x2="1" y2="1"><stop offset="0" stop-color="#fff4a0"/><stop offset="1" stop-color="#e0b020"/></linearGradient>
<radialGradient id="sigg" cx="0.5" cy="0.5" r="0.5"><stop offset="0" stop-color="#ffffff"/><stop offset="0.7" stop-color="#d8e8d8"/><stop offset="1" stop-color="#90b890"/></radialGradient>
</defs>
<path d="M45.5 8.5 L50.5 1 L51.5 0 L60.5 6.5 L53.5 14.5 Z" fill="url(#bookg)" stroke="#a87018" stroke-width="0.9"/>
<path d="M46.5 10 L53.5 14 L60.5 7.5 L61 9 L54 15 L46 10.5 Z" fill="#c89038" stroke="#8a5a10" stroke-width="0.6"/>

<!-- cloud/server icon -->
<rect x="75.5" y="0" width="10" height="9" fill="#2a98f0" stroke="#1068c8" stroke-width="1"/>
<rect x="76" y="0" width="2.5" height="9" fill="#60b8ff"/>
<rect x="79.5" y="2.5" width="5" height="1.2" fill="#e8f4ff"/>
<rect x="79.5" y="5" width="5" height="1.2" fill="#c0e0ff"/>
<path d="M74.5 14.5 C72.3 14.5 72.3 10.8 75 10.8 C75.5 8.3 78.8 7.6 80.3 9.2 C81.3 6.6 85.8 6.8 86 10.2 C88.8 10.2 89 14.5 86.5 14.5 Z" fill="url(#cloudg)" stroke="#4a6aa8" stroke-width="1"/>

<!-- signal icon -->
<circle cx="109" cy="6.5" r="7.5" fill="url(#sigg)" opacity="0.9"/>
<path d="M109 -1 A7.5 7.5 0 0 0 109 14" fill="none" stroke="#7aa0e0" stroke-width="0.9" opacity="0.8"/>
<path d="M109 1.5 A5 5 0 0 0 109 11.5" fill="none" stroke="#5a88d8" stroke-width="0.9"/>
<path d="M109 4 A2.5 2.5 0 0 0 109 9" fill="none" stroke="#3a70c8" stroke-width="0.9"/>
<path d="M109 -1 A7.5 7.5 0 0 1 109 14" fill="none" stroke="#70a870" stroke-width="1" opacity="0.8"/>
<circle cx="108.8" cy="6.3" r="1.6" fill="#2060c8"/>
<path d="M109.2 7 V14.5" stroke="#20a020" stroke-width="1.4"/>

<!-- hat icon -->
<path d="M128.5 6.5 Q136 6 144 4.5 L139 13.5 L136.5 14.5 Q132 11 128.5 6.5 Z" fill="url(#bowlg)" stroke="#b89020" stroke-width="0.8"/>
<ellipse cx="136" cy="3.5" rx="7.8" ry="2.2" fill="url(#hatg)" stroke="#3a80b0" stroke-width="0.7"/>
<path d="M134 3 L135.5 0 L137.5 0 L138.5 3 Z" fill="#78b8e0"/>
<circle cx="140.5" cy="11" r="3.8" fill="#e82010" stroke="#a81000" stroke-width="0.8"/>
<rect x="139" y="9.5" width="3" height="3" fill="#fff"/>

<!-- separators -->
<g shape-rendering="crispEdges">
<rect x="204" y="0" width="1" height="19" fill="#a0a0a0"/><rect x="205" y="0" width="1" height="19" fill="#fff"/>
<rect x="242" y="0" width="1" height="17" fill="#a0a0a0"/>
<rect x="299" y="0" width="1" height="17" fill="#a0a0a0"/>
<rect x="389" y="0" width="1" height="17" fill="#a0a0a0"/>
<rect x="394" y="0" width="1" height="17" fill="#a0a0a0"/>
<rect x="422" y="0" width="1" height="17" fill="#a0a0a0"/>
<rect x="451" y="0" width="1" height="17" fill="#a0a0a0"/>
<rect x="572" y="0" width="1" height="19" fill="#a0a0a0"/><rect x="573" y="0" width="1" height="19" fill="#fff"/>
<rect x="582" y="0" width="1" height="17" fill="#a0a0a0"/>
<rect x="639" y="0" width="1" height="17" fill="#a0a0a0"/>
<rect x="878" y="0" width="1" height="19" fill="#a0a0a0"/><rect x="879" y="0" width="1" height="19" fill="#fff"/>
<rect x="1028" y="0" width="1" height="17" fill="#a0a0a0"/>
<rect x="1139" y="0" width="1" height="19" fill="#a0a0a0"/><rect x="1140" y="0" width="1" height="19" fill="#fff"/>
<!-- selected backgrounds -->
<defs><pattern id="chk" x="0" y="0" width="2" height="2" patternUnits="userSpaceOnUse"><rect width="2" height="2" fill="#ebebeb"/><rect width="1" height="1" fill="#fff"/><rect x="1" y="1" width="1" height="1" fill="#fff"/></pattern></defs>
<rect x="243" y="0" width="25" height="17" fill="url(#chk)"/>
<rect x="395" y="0" width="25" height="17" fill="url(#chk)"/>
<rect x="423" y="0" width="25" height="17" fill="url(#chk)"/>
<rect x="583" y="0" width="25" height="17" fill="url(#chk)"/>
<rect x="1029" y="0" width="25" height="17" fill="url(#chk)"/>
</g>
<!-- grips -->
<g fill="#808080" shape-rendering="crispEdges">
<rect x="208" y="1" width="3" height="1"/><rect x="208" y="3" width="3" height="1"/><rect x="208" y="5" width="3" height="1"/><rect x="208" y="7" width="3" height="1"/><rect x="208" y="9" width="3" height="1"/><rect x="208" y="11" width="3" height="1"/><rect x="208" y="13" width="3" height="1"/><rect x="208" y="15" width="3" height="1"/>
<rect x="576" y="1" width="3" height="1"/><rect x="576" y="3" width="3" height="1"/><rect x="576" y="5" width="3" height="1"/><rect x="576" y="7" width="3" height="1"/><rect x="576" y="9" width="3" height="1"/><rect x="576" y="11" width="3" height="1"/><rect x="576" y="13" width="3" height="1"/><rect x="576" y="15" width="3" height="1"/>
<rect x="882" y="1" width="3" height="1"/><rect x="882" y="3" width="3" height="1"/><rect x="882" y="5" width="3" height="1"/><rect x="882" y="7" width="3" height="1"/><rect x="882" y="9" width="3" height="1"/><rect x="882" y="11" width="3" height="1"/><rect x="882" y="13" width="3" height="1"/><rect x="882" y="15" width="3" height="1"/>
</g>

<!-- axis icons -->
<g stroke="#555" stroke-width="1.2" fill="none">
<path d="M222.5 2 V14.5 M220 12.5 H233.5 M221 3.5 L222.5 1.5 L224 3.5 M232 11 L234 12.5 L232 14"/>
<path d="M250.5 2 V14.5 M248 12.5 H261.5 M249 3.5 L250.5 1.5 L252 3.5 M260 11 L262 12.5 L260 14"/>
<path d="M278.5 2 V14.5 M276 12.5 H289.5 M277 3.5 L278.5 1.5 L280 3.5 M288 11 L290 12.5 L288 14"/>
<path d="M402.5 2 V14.5 M400 12.5 H413.5 M401 3.5 L402.5 1.5 L404 3.5 M412 11 L414 12.5 L412 14"/>
<path d="M430.5 2 V14.5 M428 12.5 H441.5 M429 3.5 L430.5 1.5 L432 3.5 M440 11 L442 12.5 L440 14"/>
</g>
<path d="M226 9.5 H228.5 V3.3 H231" fill="none" stroke="#109010" stroke-width="1.2"/>
<rect x="256" y="0" width="1.2" height="11" fill="#109010"/>
<rect x="254.5" y="1.5" width="4.5" height="7" fill="#40e040" stroke="#109010" stroke-width="1"/>
<path d="M277 9.5 Q283 1 289 7.5" fill="none" stroke="#30a030" stroke-width="1.2"/>
<path d="M407.5 3.5 L411 6.5 L407.5 9.5 Z" fill="#60e060" stroke="#109010" stroke-width="1"/>
<rect x="436" y="1" width="1.2" height="10" fill="#1070b0"/>
<path d="M437.5 6.5 L440 4.5 V5.8 H442 V7.2 H440 V8.5 Z" fill="#e05010"/>

<!-- zoom in / out -->
<path d="M317 8 L322.5 13.5" stroke="#a07010" stroke-width="3"/>
<path d="M317 8 L322.5 13.5" stroke="#e8d050" stroke-width="1.8"/>
<circle cx="314" cy="5" r="5" fill="#d8ecf8" stroke="#3070c0" stroke-width="1"/>
<path d="M311 5 H317 M314 2 V8" stroke="#4a88b8" stroke-width="1.6"/>
<path d="M345 8 L350.5 13.5" stroke="#a07010" stroke-width="3"/>
<path d="M345 8 L350.5 13.5" stroke="#e8d050" stroke-width="1.8"/>
<circle cx="342" cy="5" r="5" fill="#d8ecf8" stroke="#3070c0" stroke-width="1"/>
<path d="M339 5 H345" stroke="#4a88b8" stroke-width="1.6"/>

<!-- grid icon -->
<g shape-rendering="crispEdges">
<rect x="364" y="0" width="8" height="7" fill="#30a020"/>
<rect x="372" y="0" width="8" height="7" fill="#2050d0"/>
<rect x="364" y="7" width="8" height="8" fill="#2050d0"/>
<rect x="372" y="7" width="8" height="8" fill="#30a020"/>
<rect x="365" y="2" width="6" height="3" fill="#f0fff0"/>
<rect x="373" y="2" width="6" height="3" fill="#f0f4ff"/>
<rect x="365" y="10" width="6" height="3" fill="#f0f4ff"/>
<rect x="373" y="10" width="6" height="3" fill="#f0fff0"/>
</g>

<!-- indicator icon -->
<path d="M461.5 0 H470 L473.5 3 V12.5 H461.5 Z" fill="#fff" stroke="#808080" stroke-width="1"/>
<path d="M469 5.5 H473 V9.5 H477 V13.5 H473 V17.5 H469 V13.5 H465 V9.5 H469 Z" fill="#40d040" stroke="#109010" stroke-width="1"/>
<path d="M483 6 H488 L485.5 9 Z" fill="#000"/>

<!-- clock -->
<circle cx="507" cy="7" r="7" fill="#fff" stroke="#1a70d0" stroke-width="2.2"/>
<path d="M506 2.5 V7 H509.5" fill="none" stroke="#000" stroke-width="1.1"/>
<path d="M522 6 H527 L524.5 9 Z" fill="#000"/>

<!-- template -->
<rect x="538.5" y="0.5" width="15" height="13" fill="#fff" stroke="#3a78c8" stroke-width="1"/>
<rect x="538.5" y="0" width="15" height="2.5" fill="#3a78c8"/>
<rect x="538.5" y="8" width="15" height="1" fill="#3a78c8"/>
<path d="M540 6 L542 6 L544 5 L546 6 L548 5 L551 4.5" fill="none" stroke="#a02000" stroke-width="1"/>
<path d="M540 11.5 L542 11 L544 11.5 L547 9.5 L550 11.5" fill="none" stroke="#109010" stroke-width="1"/>
<path d="M561 6 H566 L563.5 9 Z" fill="#000"/>

<!-- cursor -->
<path d="M590 0 V11 L592.5 8.8 L594.5 13.5 L596.5 12.6 L594.6 8 L598 7.8 Z" fill="#4a4a4a"/>
<!-- crosshair -->
<path d="M622.5 0 V6.5 M622.5 8.5 V15 M615 7.5 H621.5 M623.5 7.5 H630" stroke="#4a4a4a" stroke-width="1.2"/>
<!-- vertical line -->
<rect x="656" y="1" width="1.2" height="13" fill="#4a4a4a"/>
<!-- horizontal line -->
<rect x="679" y="7" width="12" height="1.2" fill="#333"/>
<!-- trendline -->
<path d="M707 14 L719 2" stroke="#444" stroke-width="1.1"/>
<!-- channel E -->
<path d="M733 8.5 L740.5 1 M738 14 L747 5 M735 13.5 L736.8 6.5 M738.3 10.5 L740 4 M741.5 8 L743 2 M744.5 5.5 L745.5 0" stroke="#444" stroke-width="1" fill="none"/>
<path d="M747.5 11.5 H744.5 V15.5 H747.5 M744.5 13.5 H747" stroke="#444" stroke-width="1" fill="none"/>
<!-- fib -->
<g stroke="#444" stroke-width="1" stroke-dasharray="1,1" shape-rendering="crispEdges">
<path d="M762 0.5 H775 M762 3.5 H775 M762 7.5 H775 M762 11.5 H771"/>
</g>
<path d="M775.5 11.5 H772.5 V16 M772.5 13.5 H775" stroke="#444" stroke-width="1" fill="none"/>
<!-- A -->
<path d="M793.3 12 L796.7 3.3 L800.2 12 M794.8 8 H798.6" stroke="#505050" stroke-width="1.3" fill="none"/>
<!-- T label -->
<rect x="819" y="1.5" width="11" height="12" fill="none" stroke="#444" stroke-width="1" stroke-dasharray="1,1" shape-rendering="crispEdges"/>
<path d="M821 4.5 H828.5 M824.8 4.5 V12" stroke="#505050" stroke-width="1.5"/>
<!-- arrows icon -->
<path d="M849.5 1 L853 3.8 L846 3.8 Z" fill="#444"/>
<path d="M848 6.5 L850.5 9.5 L855 4.5" stroke="#444" stroke-width="1.2" fill="none"/>
<path d="M856.5 8.5 L860 11 L856.5 14 L853 11 Z" fill="#444"/>
<path d="M867 6 H872 L869.5 9 Z" fill="#000"/>

<!-- timeframes -->
<g font-family="Liberation Sans, sans-serif" font-size="10px" fill="#3c3c3c" transform="translate(0.5,0)">
<text x="893" y="11">M1</text>
<text x="921" y="11">M5</text>
<text x="947" y="11">M15</text>
<text x="975" y="11">M30</text>
<text x="1006" y="11">H1</text>
<text x="1033" y="11">H4</text>
<text x="1062" y="11">D1</text>
<text x="1089" y="11">W1</text>
<text x="1116" y="11">MN</text>
</g>

<!-- search -->
<circle cx="1609.5" cy="4.6" r="3.8" fill="#fff" stroke="#2060d0" stroke-width="1.5"/>
<path d="M1607 7.5 L1602.5 12" stroke="#2060d0" stroke-width="2.2"/>
<!-- chat -->
<path d="M1627 9 Q1627 4 1633 4 Q1639 4 1639 9 Q1639 13.5 1633 13.5 L1630 15.5 L1630.5 13 Q1627 12 1627 9 Z" fill="#e6e8ef" stroke="#a8a8a8" stroke-width="1"/>
<circle cx="1640.5" cy="4.3" r="8.3" fill="#e03a22"/>
<path d="M1639.5 1 L1641 0 V8 M1639 8.5 H1643" stroke="#fff" stroke-width="1.2" fill="none"/>
</g>

</svg>
</body></html>
